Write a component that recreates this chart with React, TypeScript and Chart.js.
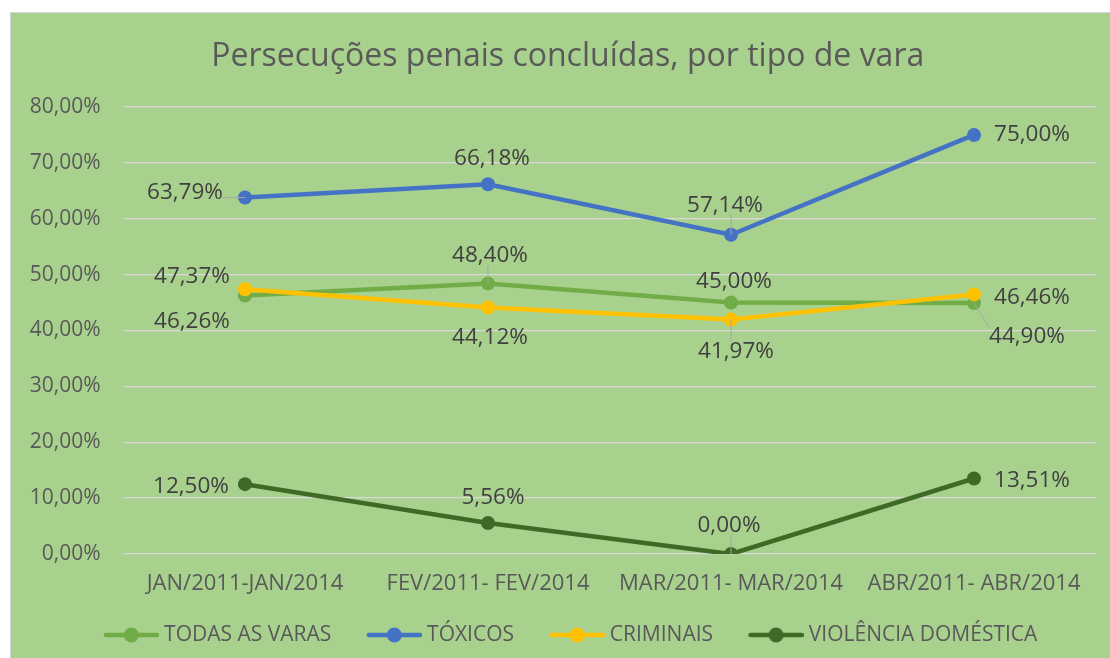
import React, { useEffect, useRef } from 'react';
import { Chart, registerables } from 'chart.js';

Chart.register(...registerables);

// ---------- data ----------
const categories = ['JAN/2011-JAN/2014', 'FEV/2011- FEV/2014', 'MAR/2011- MAR/2014', 'ABR/2011- ABR/2014'];
const seriesNames = ['TODAS AS VARAS', 'TÓXICOS', 'CRIMINAIS', 'VIOLÊNCIA DOMÉSTICA'];
const todasAsVaras = [46.26, 48.4, 45.0, 44.9];
const toxicos = [63.79, 66.18, 57.14, 75.0];
const criminais = [47.37, 44.12, 41.97, 46.46];
const violenciaDomestica = [12.5, 5.56, 0.0, 13.51];
const yMin = 0;
const yMax = 80;
const yStep = 10;
const titleText = 'Persecuções penais concluídas, por tipo de vara';

// ---------- styles ----------
const FONT = "'Open Sans', sans-serif";
const seriesColors = ['#70AD47', '#4472C4', '#FFC000', '#3F6A26'];
// label placement relative to each point (dx, dy)
const labelOffsets = [
  [[-53, 26], [2, -28], [3, -21], [53, 33]],
  [[-60, -5], [4, -26], [-6, -29], [58, 0]],
  [[-53, -13], [2, 30], [5, 32], [58, 3]],
  [[-54, 2], [5, -25], [-2, -28], [58, 2]],
];
const leaderLines = [
  [false, true, false, true],
  [true, false, true, false],
  [false, false, true, false],
  [false, false, true, false],
];

const fmt = (v: number) => v.toFixed(2).replace('.', ',') + '%';

function makeMarker(color: string): HTMLCanvasElement {
  const w = 76;
  const h = 22;
  const c = document.createElement('canvas');
  c.width = w;
  c.height = h;
  const g = c.getContext('2d')!;
  const mw = 55;
  const x0 = w - mw;
  const cy = h / 2;
  g.strokeStyle = color;
  g.lineWidth = 4.5;
  g.lineCap = 'round';
  g.beginPath();
  g.moveTo(x0 + 2, cy);
  g.lineTo(w - 2, cy);
  g.stroke();
  g.fillStyle = color;
  g.beginPath();
  g.arc(x0 + mw / 2, cy, 7.5, 0, Math.PI * 2);
  g.fill();
  return c;
}

const dataLabelPlugin = {
  id: 'dataLabelPlugin',
  afterDatasetsDraw(chart: any) {
    const ctx = chart.ctx as CanvasRenderingContext2D;
    ctx.save();
    const size = 22.5;
    ctx.font = `${size}px ${FONT}`;
    ctx.textAlign = 'center';
    ctx.textBaseline = 'middle';
    chart.data.datasets.forEach((ds: any, di: number) => {
      const meta = chart.getDatasetMeta(di);
      meta.data.forEach((pt: any, i: number) => {
        const [dx, dy] = labelOffsets[di][i];
        const text = fmt(ds.data[i]);
        const lx = pt.x + dx;
        const ly = pt.y + dy;
        if (leaderLines[di][i]) {
          const w = ctx.measureText(text).width;
          const h = size * 0.8;
          const cx = Math.max(lx - w / 2, Math.min(pt.x, lx + w / 2));
          const cy = Math.max(ly - h / 2, Math.min(pt.y, ly + h / 2));
          ctx.strokeStyle = '#A6A6A6';
          ctx.lineWidth = 1;
          ctx.beginPath();
          ctx.moveTo(pt.x, pt.y);
          ctx.lineTo(cx, cy);
          ctx.stroke();
        }
        ctx.fillStyle = '#404040';
        ctx.fillText(text, lx, ly);
      });
    });
    ctx.restore();
  },
};

const boxShiftPlugin = {
  id: 'boxShiftPlugin',
  afterLayout(chart: any) {
    if (chart.legend) {
      chart.legend.left += 15;
      chart.legend.right += 15;
    }
    if (chart.titleBlock) {
      chart.titleBlock.left += 20;
      chart.titleBlock.right += 20;
    }
  },
};

export default function App() {
  const ref = useRef<HTMLCanvasElement | null>(null);

  useEffect(() => {
    if (!ref.current) return;
    const markers = seriesColors.map((c) => makeMarker(c));
    const seriesData = [todasAsVaras, toxicos, criminais, violenciaDomestica];
    const chart = new Chart(ref.current, {
      type: 'line',
      data: {
        labels: categories,
        datasets: seriesData.map((d, i) => ({
          label: seriesNames[i],
          data: d,
          borderColor: seriesColors[i],
          backgroundColor: seriesColors[i],
          pointBackgroundColor: seriesColors[i],
          pointBorderWidth: 0,
          pointRadius: 7,
          pointHoverRadius: 7,
          borderWidth: 4.5,
          tension: 0,
          fill: false,
          order: seriesData.length - i,
        })),
      },
      options: {
        responsive: false,
        animation: false,
        layout: { padding: { left: 0, right: 14.5, top: 0, bottom: 2.5 } },
        scales: {
          x: {
            offset: true,
            grid: { display: false, drawTicks: false },
            border: { display: false },
            ticks: {
              color: '#595959',
              font: { family: FONT, size: 22 },
              padding: 16.5,
              maxRotation: 0,
              autoSkip: false,
            },
            afterFit(s: any) {
              s.height = 50.75;
            },
          },
          y: {
            min: yMin,
            max: yMax,
            ticks: {
              stepSize: yStep,
              color: '#595959',
              font: { family: FONT, size: 21 },
              padding: 23,
              callback: (v: any) => fmt(Number(v)),
            },
            grid: { color: '#D9D9D9', lineWidth: 1.3, drawTicks: false },
            border: { display: false },
            afterFit(s: any) {
              s.width = 123.5;
            },
          },
        },
        plugins: {
          title: {
            display: true,
            text: titleText,
            color: '#595959',
            font: { family: FONT, size: 32, weight: 'normal' as any },
            padding: { top: 38, bottom: 30.6 },
          },
          legend: {
            display: true,
            position: 'bottom',
            labels: {
              color: '#595959',
              font: { family: FONT, size: 21 },
              usePointStyle: true,
              pointStyleWidth: 65.5,
              padding: 19.75,
              generateLabels: (ch: any) =>
                ch.data.datasets.map((ds: any, i: number) => ({
                  text: ds.label,
                  fillStyle: ds.borderColor,
                  strokeStyle: ds.borderColor,
                  lineWidth: 0,
                  pointStyle: markers[i],
                  hidden: false,
                  datasetIndex: i,
                  fontColor: '#595959',
                })),
            },
          },
          tooltip: { enabled: false },
        },
      },
      plugins: [dataLabelPlugin, boxShiftPlugin],
    });
    return () => chart.destroy();
  }, []);

  return (
    <div style={{ position: 'fixed', left: 0, top: 0, width: 1110, height: 658, background: '#FFFFFF', overflow: 'hidden' }}>
      <div
        style={{
          position: 'absolute',
          left: 10,
          top: 12,
          width: 1110,
          height: 660,
          background: '#A9D18E',
          borderLeft: '1.5px solid #D6D6D6',
          borderTop: '1.5px solid #D6D6D6',
        }}
      />
      <canvas ref={ref} width={1110} height={658} style={{ position: 'absolute', left: 0, top: 0, width: 1110, height: 658 }} />
    </div>
  );
}
